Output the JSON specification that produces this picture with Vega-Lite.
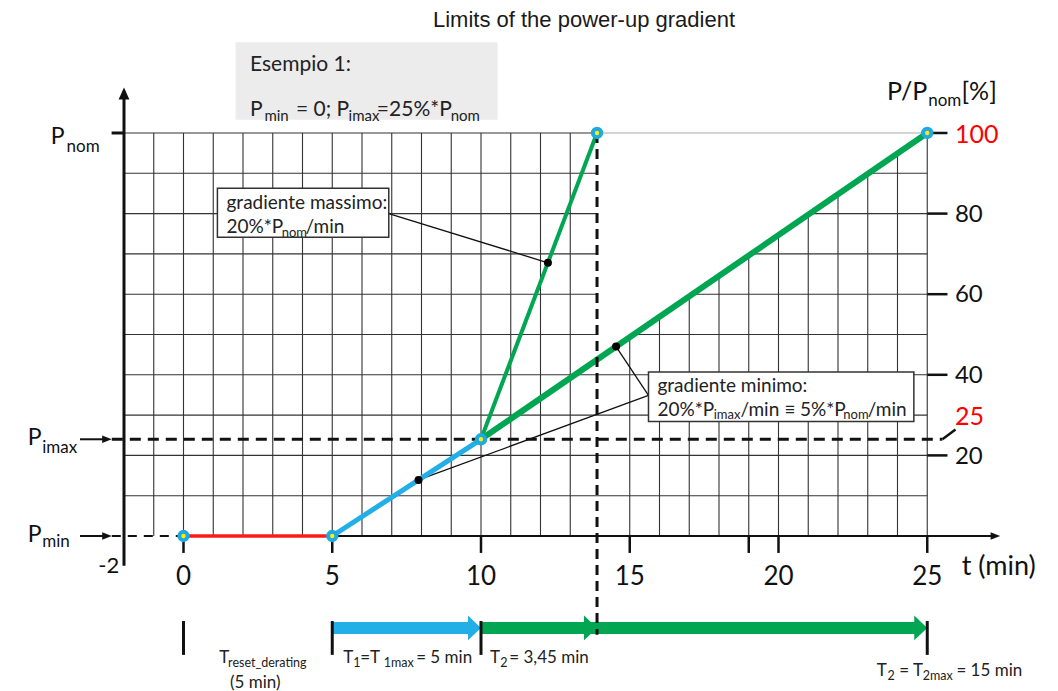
{
 "$schema": "https://vega.github.io/schema/vega-lite/v6.json",
 "width": 1058, "height": 691,
 "autosize": {"type": "fit", "contains": "padding"},
 "padding": 0,
 "background": "white",
 "config": {"view": {"stroke": null}},
 "encoding": {
  "x": {"field": "t", "type": "quantitative", "scale": {"domain": [-6.168, 29.395], "nice": false, "zero": false}, "axis": null},
  "y": {"field": "p", "type": "quantitative", "scale": {"domain": [-38.46, 133.0], "nice": false, "zero": false}, "axis": null}
 },
 "layer": [
  {"data": {"values": [{"t":-1,"p":0,"p2":100},{"t":0,"p":0,"p2":100},{"t":1,"p":0,"p2":100},{"t":2,"p":0,"p2":100},{"t":3,"p":0,"p2":100},{"t":4,"p":0,"p2":100},{"t":5,"p":0,"p2":100},{"t":6,"p":0,"p2":100},{"t":7,"p":0,"p2":100},{"t":8,"p":0,"p2":100},{"t":9,"p":0,"p2":100},{"t":10,"p":0,"p2":100},{"t":11,"p":0,"p2":100},{"t":12,"p":0,"p2":100},{"t":13,"p":0,"p2":100},{"t":15,"p":0,"p2":100},{"t":16,"p":0,"p2":100},{"t":17,"p":0,"p2":100},{"t":18,"p":0,"p2":100},{"t":19,"p":0,"p2":100},{"t":20,"p":0,"p2":100},{"t":21,"p":0,"p2":100},{"t":22,"p":0,"p2":100},{"t":23,"p":0,"p2":100},{"t":24,"p":0,"p2":100},{"t":25,"p":0,"p2":100}]},
   "mark": {"type": "rule", "color": "#333", "strokeWidth": 1.1},
   "encoding": {"y2": {"field": "p2"}}},
  {"data": {"values": [{"t":-2,"t2":25,"p":10},{"t":-2,"t2":25,"p":20},{"t":-2,"t2":25,"p":30},{"t":-2,"t2":25,"p":40},{"t":-2,"t2":25,"p":50},{"t":-2,"t2":25,"p":60},{"t":-2,"t2":25,"p":70},{"t":-2,"t2":25,"p":80},{"t":-2,"t2":25,"p":90}]},
   "mark": {"type": "rule", "color": "#333", "strokeWidth": 1.1},
   "encoding": {"x2": {"field": "t2"}}},
  {"data": {"values": [{"t":13.9,"p":43.76,"p2":100.3},{"t":25.2,"p":101,"p2":101}]},
   "mark": {"type": "area", "color": "white", "opacity": 1},
   "encoding": {"y2": {"field": "p2"}}},
  {"data": {"values": [{"t":-2,"t2":13.9,"p":100}]},
   "mark": {"type": "rule", "color": "#333", "strokeWidth": 1.1},
   "encoding": {"x2": {"field": "t2"}}},
  {"data": {"values": [{"t":13.9,"t2":25,"p":100}]},
   "mark": {"type": "rule", "color": "#aaaaaa", "strokeWidth": 1},
   "encoding": {"x2": {"field": "t2"}}},
  {"data": {"values": [{"t":1.75,"t2":10.56,"p":103.3,"p2":122.5}]},
   "mark": {"type": "rect", "color": "#ececec"},
   "encoding": {"x2": {"field": "t2"}, "y2": {"field": "p2"}}},
  {"data": {"values": [{"t":-2,"t2":-2,"p":-7.4,"p2":110.5},{"t":-2.417,"t2":-2,"p":100,"p2":100}]},
   "mark": {"type": "rule", "color": "#111", "strokeWidth": 3},
   "encoding": {"x2": {"field": "t2"}, "y2": {"field": "p2"}}},
  {"data": {"values": [{"t":0,"t2":27.2,"p":0,"p2":0},{"t":-3.479,"t2":-2.6,"p":24,"p2":24},{"t":-3.479,"t2":-2.6,"p":0,"p2":0}]},
   "mark": {"type": "rule", "color": "#111", "strokeWidth": 2},
   "encoding": {"x2": {"field": "t2"}, "y2": {"field": "p2"}}},
  {"data": {"values": [{"t":0,"p":0,"p2":-4.2},{"t":5,"p":0,"p2":-4.2},{"t":10,"p":0,"p2":-4.2},{"t":15,"p":0,"p2":-4.2},{"t":19,"p":0,"p2":-4.2},{"t":20,"p":0,"p2":-4.2},{"t":25,"p":0,"p2":-4.2}]},
   "mark": {"type": "rule", "color": "#111", "strokeWidth": 2.5},
   "encoding": {"y2": {"field": "p2"}}},
  {"data": {"values": [{"t":25,"t2":25.68,"p":20},{"t":25,"t2":25.68,"p":40},{"t":25,"t2":25.68,"p":60},{"t":25,"t2":25.68,"p":80},{"t":25,"t2":25.68,"p":100}]},
   "mark": {"type": "rule", "color": "#111", "strokeWidth": 2.5},
   "encoding": {"x2": {"field": "t2"}}},
  {"data": {"values": [{"t":25.51,"t2":25.95,"p":24,"p2":26.4}]},
   "mark": {"type": "rule", "color": "#111", "strokeWidth": 2.5},
   "encoding": {"x2": {"field": "t2"}, "y2": {"field": "p2"}}},
  {"data": {"values": [{"t":-2.41,"t2":25.51,"p":24}]},
   "mark": {"type": "rule", "color": "#111", "strokeWidth": 3, "strokeDash": [11, 7]},
   "encoding": {"x2": {"field": "t2"}}},
  {"data": {"values": [{"t":-2.41,"t2":0,"p":0}]},
   "mark": {"type": "rule", "color": "#111", "strokeWidth": 2, "strokeDash": [9, 7]},
   "encoding": {"x2": {"field": "t2"}}},
  {"data": {"values": [{"t":6.9,"t2":12.25,"p":80.0,"p2":67.8},{"t":15.63,"t2":14.54,"p":34.9,"p2":47.0},{"t":15.63,"t2":7.9,"p":34.9,"p2":13.9}]},
   "mark": {"type": "rule", "color": "#111", "strokeWidth": 1.3},
   "encoding": {"x2": {"field": "t2"}, "y2": {"field": "p2"}}},
  {"data": {"values": [{"t":1.14,"t2":6.9,"p":74.1,"p2":86.3},{"t":15.63,"t2":24.55,"p":28.4,"p2":40.7}]},
   "mark": {"type": "rect", "fill": "white", "stroke": "#333", "strokeWidth": 1.5},
   "encoding": {"x2": {"field": "t2"}, "y2": {"field": "p2"}}},
  {"data": {"values": [{"t":0,"p":0},{"t":5,"p":0}]},
   "mark": {"type": "line", "color": "#ff1a1a", "strokeWidth": 3.5}},
  {"data": {"values": [{"t":5,"p":0},{"t":10,"p":24}]},
   "mark": {"type": "line", "color": "#22aee6", "strokeWidth": 5}},
  {"data": {"values": [{"t":10,"p":24},{"t":13.9,"p":100}]},
   "mark": {"type": "line", "color": "#00a651", "strokeWidth": 4}},
  {"data": {"values": [{"t":10,"p":24},{"t":25,"p":100}]},
   "mark": {"type": "line", "color": "#00a651", "strokeWidth": 6}},
  {"data": {"values": [{"t":5,"t2":9.7,"p":-22.8}]},
   "mark": {"type": "rule", "color": "#22aee6", "strokeWidth": 12},
   "encoding": {"x2": {"field": "t2"}}},
  {"data": {"values": [{"t":10,"t2":24.7,"p":-22.8}]},
   "mark": {"type": "rule", "color": "#00a651", "strokeWidth": 12},
   "encoding": {"x2": {"field": "t2"}}},
  {"data": {"values": [{"t":10,"p":-22.8}]},
   "mark": {"type": "point", "shape": "M0,0L-1,-0.96L-1,0.96Z", "size": 676, "filled": true, "color": "#22aee6", "opacity": 1, "strokeWidth": 0}},
  {"data": {"values": [{"t":13.9,"p":-22.8},{"t":25,"p":-22.8}]},
   "mark": {"type": "point", "shape": "M0,0L-1,-0.96L-1,0.96Z", "size": 676, "filled": true, "color": "#00a651", "opacity": 1, "strokeWidth": 0}},
  {"data": {"values": [{"t":0,"p":-21.1,"p2":-29.5},{"t":5,"p":-21.1,"p2":-29.5},{"t":10,"p":-21.1,"p2":-29.5},{"t":25,"p":-21.1,"p2":-29.5}]},
   "mark": {"type": "rule", "color": "#111", "strokeWidth": 3},
   "encoding": {"y2": {"field": "p2"}}},
  {"data": {"values": [{"t":13.9,"p":100,"p2":-24.5}]},
   "mark": {"type": "rule", "color": "#111", "strokeWidth": 3, "strokeDash": [10, 6]},
   "encoding": {"y2": {"field": "p2"}}},
  {"data": {"values": [{"t":-2.413,"p":24},{"t":-2.413,"p":0},{"t":27.45,"p":0}]},
   "mark": {"type": "point", "shape": "M0,0L-1,-0.4L-1,0.4Z", "size": 361, "filled": true, "color": "#111", "opacity": 1, "strokeWidth": 0}},
  {"data": {"values": [{"t":-2,"p":111.3}]},
   "mark": {"type": "point", "shape": "M0,0L-0.45,1L0.45,1Z", "size": 576, "filled": true, "color": "#111", "opacity": 1, "strokeWidth": 0}},
  {"data": {"values": [{"t":0,"p":0},{"t":5,"p":0},{"t":10,"p":24},{"t":13.9,"p":100},{"t":25,"p":100}]},
   "mark": {"type": "point", "shape": "circle", "size": 70, "filled": true, "fill": "#ffee00", "stroke": "#1da9e1", "strokeWidth": 4, "opacity": 1}},
  {"data": {"values": [{"t":7.9,"p":13.9},{"t":12.25,"p":67.8},{"t":14.54,"p":47.0}]},
   "mark": {"type": "point", "shape": "circle", "size": 64, "filled": true, "color": "#000", "opacity": 1}},
  {"data": {"values": [{"t":13.462,"p":126.2,"text":"Limits of the power-up gradient"}]},
   "mark": {"type": "text", "font": "Liberation Sans", "fontSize": 22, "align": "center", "baseline": "alphabetic", "color": "#1a1a1a"},
   "encoding": {"text": {"field": "text"}}},
  {"data": {"values": [{"t":-4.464,"p":97.3,"text":"P"},{"t":-5.237,"p":22.6,"text":"P"},{"t":-5.237,"p":-1.4,"text":"P"}]},
   "mark": {"type": "text", "font": "Lato", "fontSize": 23, "align": "left", "baseline": "alphabetic", "color": "#111"},
   "encoding": {"text": {"field": "text"}}},
  {"data": {"values": [{"t":-3.93,"p":95.2,"text":"nom"},{"t":-4.75,"p":20.5,"text":"imax"},{"t":-4.75,"p":-2.65,"text":"min"},{"t":25.03,"p":106.8,"text":"nom"}]},
   "mark": {"type": "text", "font": "Lato", "fontSize": 17, "align": "left", "baseline": "alphabetic", "color": "#111"},
   "encoding": {"text": {"field": "text"}}},
  {"data": {"values": [{"t":23.65,"p":108.1,"text":"P/P"},{"t":26.15,"p":108.1,"text":"[%]"}]},
   "mark": {"type": "text", "font": "Lato", "fontSize": 25, "align": "left", "baseline": "alphabetic", "color": "#111"},
   "encoding": {"text": {"field": "text"}}},
  {"data": {"values": [{"t":0,"p":-12.2,"text":"0"},{"t":5,"p":-12.2,"text":"5"},{"t":10,"p":-12.2,"text":"10"},{"t":15,"p":-12.2,"text":"15"},{"t":20,"p":-12.2,"text":"20"},{"t":25,"p":-12.2,"text":"25"}]},
   "mark": {"type": "text", "font": "Lato", "fontSize": 26, "align": "center", "baseline": "alphabetic", "color": "#111"},
   "encoding": {"text": {"field": "text"}}},
  {"data": {"values": [{"t":-2.158,"p":-9.3,"text":"-2"}]},
   "mark": {"type": "text", "font": "Lato", "fontSize": 22, "align": "right", "baseline": "alphabetic", "color": "#111"},
   "encoding": {"text": {"field": "text"}}},
  {"data": {"values": [{"t":26.16,"p":-9.7,"text":"t (min)"}]},
   "mark": {"type": "text", "font": "Lato", "fontSize": 27, "align": "left", "baseline": "alphabetic", "color": "#111"},
   "encoding": {"text": {"field": "text"}}},
  {"data": {"values": [{"t":25.93,"p":17.94,"text":"20"},{"t":25.93,"p":37.94,"text":"40"},{"t":25.93,"p":57.94,"text":"60"},{"t":25.93,"p":77.94,"text":"80"}]},
   "mark": {"type": "text", "font": "Lato", "fontSize": 24, "align": "left", "baseline": "alphabetic", "color": "#111"},
   "encoding": {"text": {"field": "text"}}},
  {"data": {"values": [{"t":25.93,"p":97.6,"text":"100"},{"t":25.93,"p":27.5,"text":"25"}]},
   "mark": {"type": "text", "font": "Lato", "fontSize": 25, "align": "left", "baseline": "alphabetic", "color": "#ff0000"},
   "encoding": {"text": {"field": "text"}}},
  {"data": {"values": [{"t":2.235,"p":115.5,"text":"Esempio 1:"},{"t":2.235,"p":104.2,"text":"P"},{"t":3.78,"p":104.2,"text":"= 0; P"},{"t":6.5,"p":104.2,"text":"=25%*P"}]},
   "mark": {"type": "text", "font": "Lato", "fontSize": 21, "align": "left", "baseline": "alphabetic", "color": "#222"},
   "encoding": {"text": {"field": "text"}}},
  {"data": {"values": [{"t":2.72,"p":103.0,"text":"min"},{"t":5.55,"p":103.0,"text":"imax"},{"t":8.98,"p":103.0,"text":"nom"}]},
   "mark": {"type": "text", "font": "Lato", "fontSize": 15, "align": "left", "baseline": "alphabetic", "color": "#222"},
   "encoding": {"text": {"field": "text"}}},
  {"data": {"values": [{"t":1.445,"p":81.1,"text":"gradiente massimo:"},{"t":1.445,"p":75.2,"text":"20%*P"},{"t":4.1,"p":75.2,"text":"/min"},{"t":15.93,"p":35.7,"text":"gradiente minimo:"},{"t":15.93,"p":29.9,"text":"20%*P"},{"t":18.72,"p":29.9,"text":"/min ≡ 5%*P"},{"t":23.0,"p":29.9,"text":"/min"}]},
   "mark": {"type": "text", "font": "Lato", "fontSize": 19, "align": "left", "baseline": "alphabetic", "color": "#222"},
   "encoding": {"text": {"field": "text"}}},
  {"data": {"values": [{"t":3.3,"p":74.2,"text":"nom"},{"t":17.82,"p":29.05,"text":"imax"},{"t":22.18,"p":29.05,"text":"nom"}]},
   "mark": {"type": "text", "font": "Lato", "fontSize": 13, "align": "left", "baseline": "alphabetic", "color": "#222"},
   "encoding": {"text": {"field": "text"}}},
  {"data": {"values": [{"t":1.203,"p":-31.6,"text":"T"},{"t":1.563,"p":-37.7,"text":"(5 min)"},{"t":5.371,"p":-31.6,"text":"T"},{"t":5.94,"p":-31.6,"text":"=T"},{"t":7.82,"p":-31.6,"text":"= 5 min"},{"t":10.303,"p":-31.6,"text":"T"},{"t":10.95,"p":-31.6,"text":"= 3,45 min"},{"t":23.3,"p":-34.7,"text":"T"},{"t":24.06,"p":-34.7,"text":"= T"},{"t":25.98,"p":-34.7,"text":"= 15 min"}]},
   "mark": {"type": "text", "font": "Lato", "fontSize": 17, "align": "left", "baseline": "alphabetic", "color": "#222"},
   "encoding": {"text": {"field": "text"}}},
  {"data": {"values": [{"t":1.5,"p":-32.4,"text":"reset_derating"},{"t":5.71,"p":-32.6,"text":"1"},{"t":6.73,"p":-32.6,"text":"1max"},{"t":10.65,"p":-32.6,"text":"2"},{"t":23.66,"p":-35.7,"text":"2"},{"t":24.85,"p":-35.7,"text":"2max"}]},
   "mark": {"type": "text", "font": "Lato", "fontSize": 12.5, "align": "left", "baseline": "alphabetic", "color": "#222"},
   "encoding": {"text": {"field": "text"}}}
 ]
}
